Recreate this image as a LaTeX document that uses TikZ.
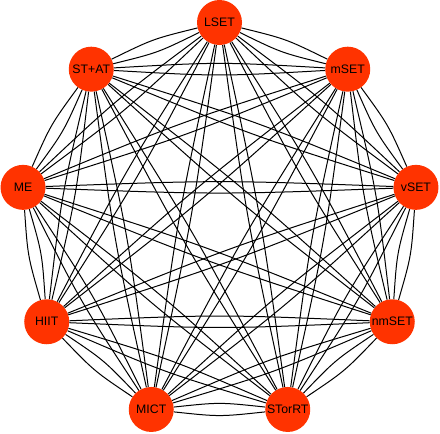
\documentclass[tikz,border=0pt]{standalone}
\usepackage{fontspec}
\setmainfont{Liberation Sans}
\usetikzlibrary{calc}
\definecolor{nodered}{HTML}{FF3300}
\begin{document}
\begin{tikzpicture}[x=1pt,y=-1pt,
  vert/.style={circle,fill=nodered,minimum size=45pt,inner sep=0pt,text=black,font=\fontsize{12.3}{14}\selectfont},
  link/.style={line width=1pt,black}]
\useasboundingbox (0,0) rectangle (440,434);
\foreach \name/\lab/\ang in {n0/LSET/90, n1/mSET/50, n2/vSET/10, n3/nmSET/-30, n4/STorRT/-70, n5/MICT/-110, n6/HIIT/-150, n7/ME/170, n8/ST+AT/130}
  \node[vert] (\name) at ({219.5+199.5*cos(\ang)},{222-199.5*sin(\ang)}) {\lab};
\foreach \i in {0,...,7} {
  \pgfmathtruncatemacro\k{\i+1}
  \foreach \j in {\k,...,8} {
    \draw[link] (n\i) .. controls ($(n\i.center)!0.5!(n\j.center)!7.3pt!90:(n\j.center)$) .. (n\j);
    \draw[link] (n\i) .. controls ($(n\i.center)!0.5!(n\j.center)!7.3pt!-90:(n\j.center)$) .. (n\j);
  }
}
\end{tikzpicture}
\end{document}
